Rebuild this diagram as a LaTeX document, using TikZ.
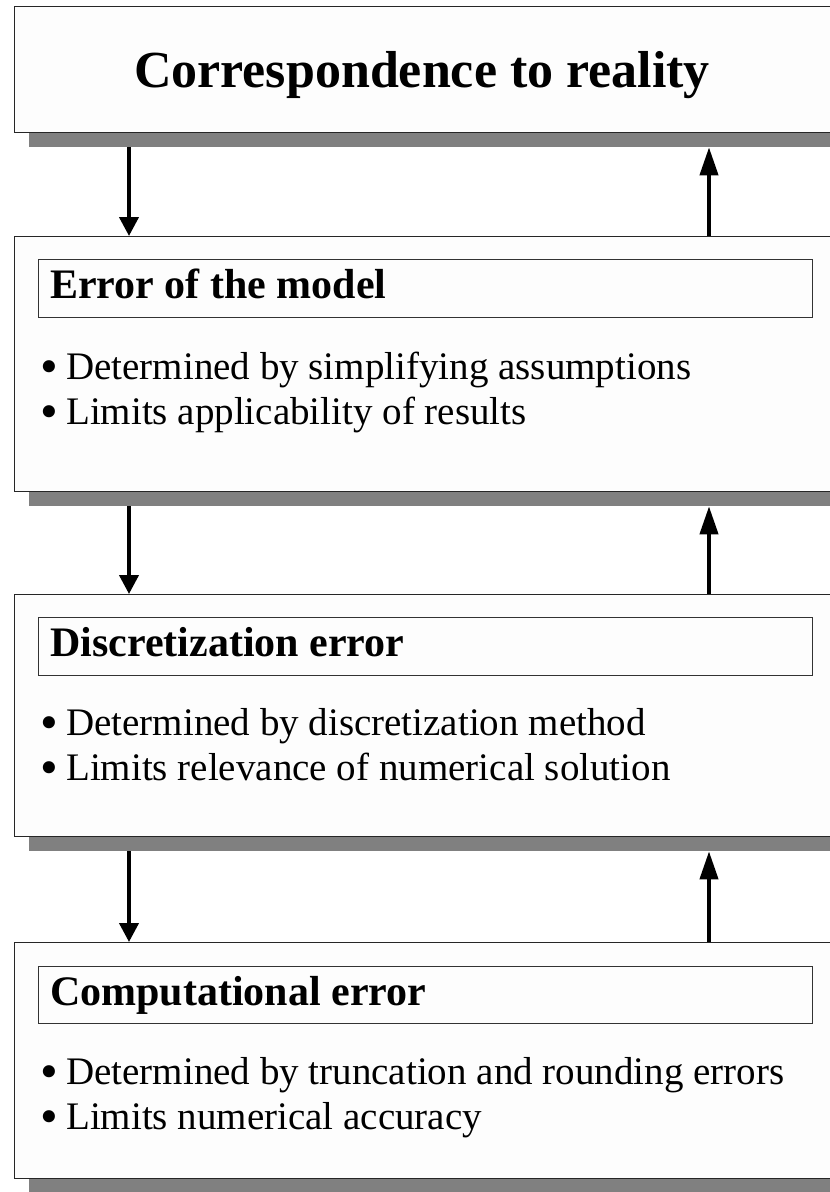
\documentclass[tikz,border=0pt]{standalone}
\usepackage{graphicx}
\usepackage{fontspec}
\setmainfont{Liberation Serif}
\usetikzlibrary{shadows,arrows.meta,calc}
\definecolor{shadowgray}{HTML}{808080}
\definecolor{boxfill}{HTML}{FDFDFD}
\newcommand{\blt}{\makebox[27pt][l]{\hspace{1pt}\smash{\raisebox{-4.5pt}{\scalebox{1.3}{\textbullet}}}}}
\tikzset{
  bigbox/.style={rectangle, draw=black!85, line width=1.3pt, fill=boxfill, anchor=north west,
    inner sep=0pt, minimum width=830pt,
    drop shadow={shadow xshift=14pt, shadow yshift=-14pt, fill=shadowgray, opacity=1}},
  titlebox/.style={rectangle, draw=black!80, line width=1pt, fill=boxfill, anchor=north west,
    inner sep=0pt, minimum width=774pt, minimum height=58pt},
  bigtitle/.style={font=\fontsize{52}{60}\selectfont\bfseries, inner sep=0pt, anchor=base},
  subtitle/.style={font=\fontsize{42}{48}\selectfont\bfseries, inner sep=0pt, anchor=base west},
  bullettext/.style={font=\fontsize{39}{45}\selectfont, inner sep=0pt, anchor=base west},
  downarr/.style={line width=4pt, -{Triangle[length=19pt,width=19pt]}},
  uparr/.style={line width=4pt, -{Triangle[length=28pt,width=18pt]}},
}
\begin{document}
\begin{tikzpicture}[x=1pt,y=1pt]
\useasboundingbox (0,0) rectangle (830,-1192);
\clip (0,0) rectangle (830,-1192);

% Box 1
\node[bigbox, minimum height=126pt] (b1) at (14,-6) {};
\node[bigtitle] (t1) at (422,-87) {Correspondence to reality};

% Box 2
\node[bigbox, minimum height=255pt] (b2) at (14,-236) {};
\node[titlebox] (h2) at (38,-259) {};
\node[subtitle] (s2) at (50,-298) {Error of the model};
\node[bullettext] (p2a) at (39,-379) {\blt Determined by simplifying assumptions};
\node[bullettext] (p2b) at (39,-424) {\blt Limits applicability of results};

% Box 3
\node[bigbox, minimum height=242pt] (b3) at (14,-594) {};
\node[titlebox] (h3) at (38,-617) {};
\node[subtitle] (s3) at (50,-656) {Discretization error};
\node[bullettext] (p3a) at (39,-735) {\blt Determined by discretization method};
\node[bullettext] (p3b) at (39,-780) {\blt Limits relevance of numerical solution};

% Box 4
\node[bigbox, minimum height=236pt] (b4) at (14,-942) {};
\node[titlebox, minimum height=57pt] (h4) at (38,-966) {};
\node[subtitle] (s4) at (50,-1005) {Computational error};
\node[bullettext] (p4a) at (39,-1084) {\blt Determined by truncation and rounding errors};
\node[bullettext] (p4b) at (39,-1129) {\blt Limits numerical accuracy};

% Arrows
\draw[downarr] ($(b1.south west)+(115,-14)$) -- ($(b2.north west)+(115,0)$);
\draw[uparr] ($(b2.north west)+(695,0)$) -- ($(b1.south west)+(695,-14)$);
\draw[downarr] ($(b2.south west)+(115,-14)$) -- ($(b3.north west)+(115,0)$);
\draw[uparr] ($(b3.north west)+(695,0)$) -- ($(b2.south west)+(695,-14)$);
\draw[downarr] ($(b3.south west)+(115,-14)$) -- ($(b4.north west)+(115,0)$);
\draw[uparr] ($(b4.north west)+(695,0)$) -- ($(b3.south west)+(695,-14)$);
\end{tikzpicture}
\end{document}
